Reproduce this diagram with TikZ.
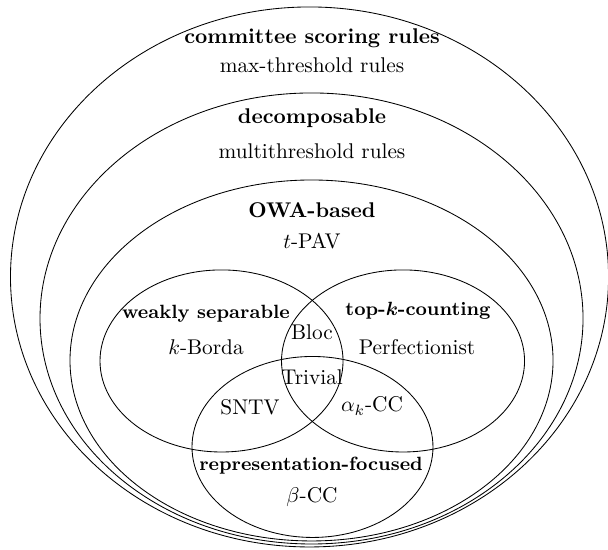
\documentclass[tikz,border=0pt]{standalone}
\usepackage{amsmath,amssymb}
\usepackage{tikz}

\begin{document}
\begin{tikzpicture}
  \useasboundingbox (0,0) rectangle (10.032,9.075);

  \draw (5.107,4.505) ellipse (4.934 and 4.455);
  \draw (5.140,3.820) ellipse (4.480 and 3.721);
  \draw (5.140,3.127) ellipse (3.985 and 2.978);
  \draw (3.655,3.119) ellipse (2.005 and 1.502);
  \draw (6.650,3.119) ellipse (2.005 and 1.502);
  \draw (5.156,1.700) ellipse (1.988 and 1.493);

  \node (committee) at (5.148,8.448) {\textbf{committee scoring rules}};
  \node (maxthr) at (5.148,7.995) {max-threshold rules};
  \node (decomp) at (5.148,7.125) {\textbf{decomposable}};
  \node (multithr) at (5.148,6.584) {multithreshold rules};
  \node (owa) at (5.148,5.610) {\textbf{OWA-based}};
  \node (tpav) at (5.148,5.099) {$t$-PAV};
  \node (weak) at (3.399,3.890) {\small\textbf{weakly separable}};
  \node (kborda) at (3.399,3.350) {$k$-Borda};
  \node (topk) at (6.897,3.945) {\small\textbf{top-$\boldsymbol{k}$-counting}};
  \node (perfect) at (6.881,3.350) {Perfectionist};
  \node (bloc) at (5.148,3.597) {Bloc};
  \node (trivial) at (5.148,2.855) {Trivial};
  \node (sntv) at (4.125,2.360) {SNTV};
  \node (alphacc) at (6.138,2.376) {$\alpha_k$-CC};
  \node (repr) at (5.132,1.386) {\small\textbf{representation-focused}};
  \node (betacc) at (5.148,0.875) {$\beta$-CC};
\end{tikzpicture}
\end{document}
